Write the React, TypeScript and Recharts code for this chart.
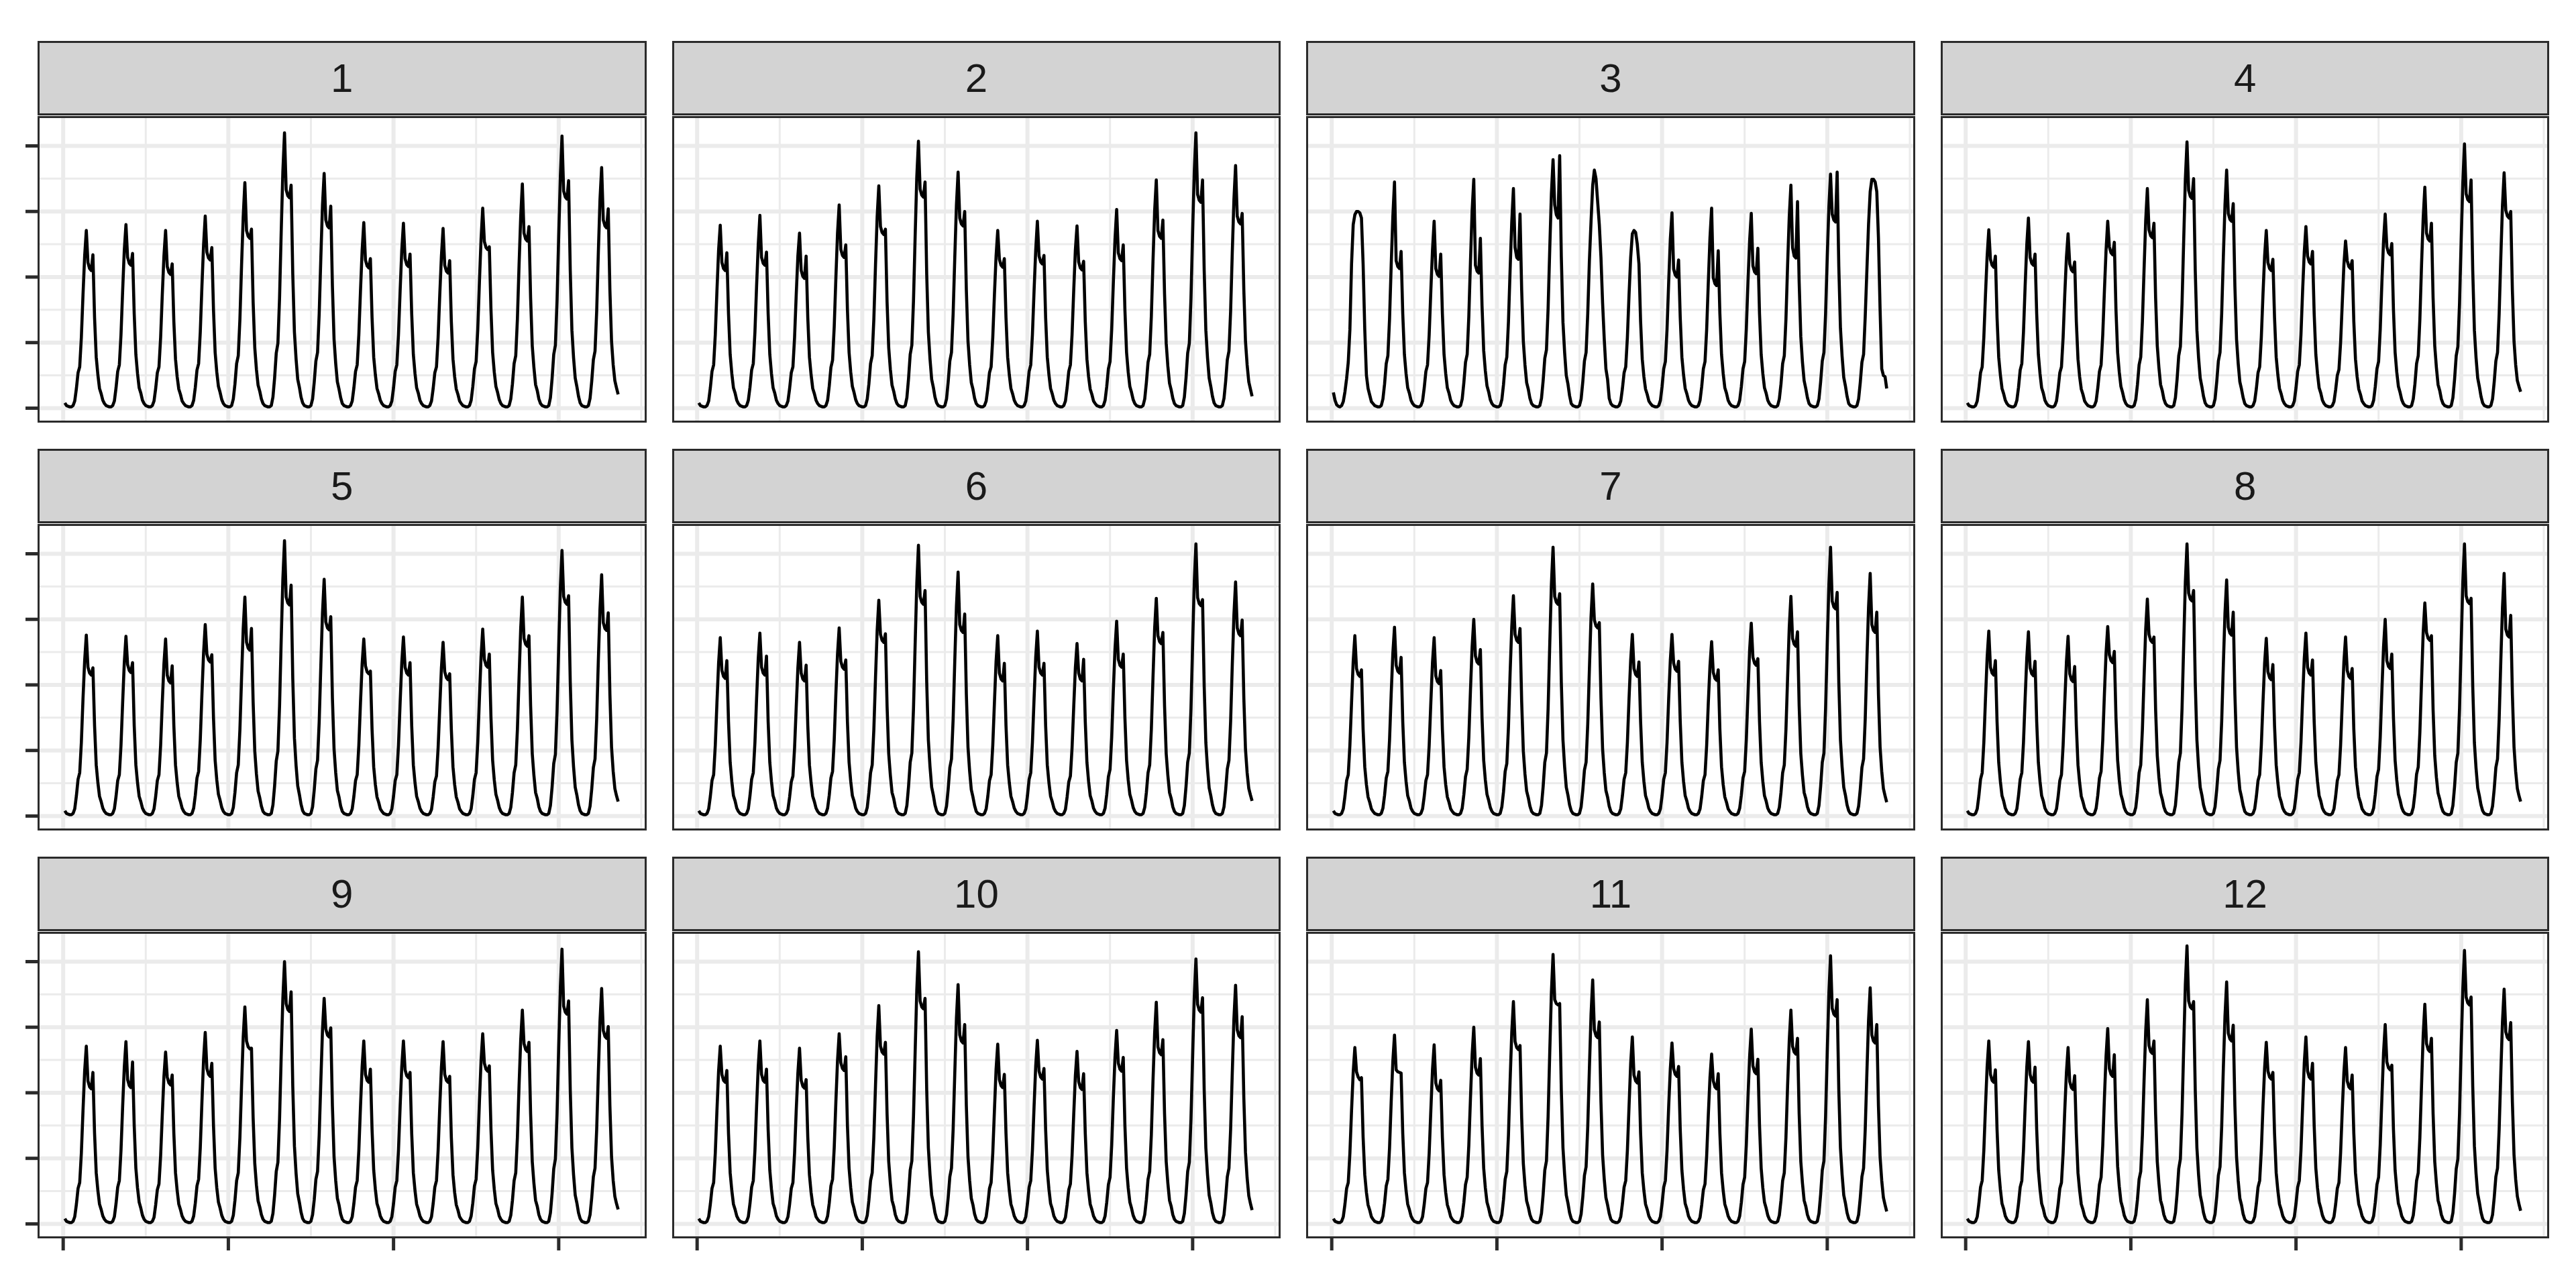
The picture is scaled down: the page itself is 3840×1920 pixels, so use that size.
import React from 'react';
import { LineChart, Line, XAxis, YAxis, CartesianGrid } from 'recharts';

// Facet labels
const panelLabels = ['1', '2', '3', '4', '5', '6', '7', '8', '9', '10', '11', '12'];

// Axis ticks (labels are blank in the reference)
const xTicks = [0, 100, 200, 300];
const xMinor = [50, 150, 250, 350];
const yTicks = [0, 1, 2, 3, 4];
const yMinor = [0.5, 1.5, 2.5, 3.5];

// Hourly values, one row of 24 per day, 14 days per panel
const p1 = [
  [.08,.04,.03,.02,.02,.04,.11,.30,.54,.63,1.08,1.73,2.32,2.71,2.22,2.13,2.10,2.34,1.38,.78,.51,.30,.22,.12],
  [.07,.04,.03,.02,.02,.04,.11,.31,.56,.66,1.12,1.79,2.41,2.80,2.30,2.21,2.18,2.36,1.44,.82,.53,.31,.23,.12],
  [.07,.04,.03,.02,.02,.04,.11,.30,.54,.63,1.08,1.73,2.32,2.71,2.16,2.07,2.04,2.20,1.32,.75,.48,.29,.21,.11],
  [.07,.04,.03,.02,.02,.04,.12,.32,.58,.68,1.16,1.86,2.49,2.93,2.38,2.29,2.26,2.45,1.50,.85,.55,.33,.24,.13],
  [.07,.04,.03,.02,.02,.04,.14,.37,.68,.80,1.36,2.18,2.92,3.44,2.71,2.62,2.59,2.73,1.62,.92,.59,.35,.26,.14],
  [.07,.04,.03,.02,.02,.04,.17,.46,.84,.99,1.68,2.69,3.61,4.20,3.33,3.24,3.21,3.40,2.04,1.16,.75,.44,.32,.17],
  [.08,.04,.03,.02,.02,.04,.14,.40,.72,.85,1.44,2.30,3.10,3.58,2.87,2.78,2.75,3.08,1.86,1.05,.68,.40,.29,.16],
  [.07,.04,.03,.02,.02,.04,.11,.31,.56,.66,1.12,1.79,2.41,2.83,2.26,2.17,2.14,2.28,1.38,.78,.51,.30,.22,.12],
  [.07,.04,.03,.02,.02,.04,.11,.31,.56,.66,1.12,1.79,2.41,2.82,2.28,2.19,2.16,2.35,1.44,.82,.53,.31,.23,.12],
  [.07,.04,.03,.02,.02,.04,.11,.30,.54,.63,1.08,1.73,2.32,2.74,2.18,2.09,2.06,2.25,1.32,.75,.48,.29,.21,.11],
  [.07,.04,.03,.02,.02,.04,.12,.33,.60,.71,1.20,1.92,2.58,3.05,2.54,2.45,2.42,2.46,1.50,.85,.55,.33,.24,.13],
  [.07,.04,.03,.02,.02,.04,.14,.37,.68,.80,1.36,2.18,2.92,3.42,2.67,2.58,2.55,2.77,1.68,.95,.62,.36,.27,.14],
  [.07,.04,.03,.02,.02,.04,.16,.45,.82,.96,1.64,2.62,3.53,4.15,3.31,3.22,3.19,3.47,2.10,1.19,.77,.46,.33,.18],
  [.08,.04,.03,.02,.02,.04,.15,.41,.74,.87,1.48,2.37,3.18,3.67,2.87,2.78,2.75,3.04,1.80,1.02,.66,.42,.31,.21],
];

const p2 = [
  [.08,.04,.03,.02,.02,.04,.11,.31,.56,.66,1.12,1.79,2.41,2.79,2.22,2.13,2.10,2.37,1.44,.82,.53,.31,.23,.12],
  [.07,.04,.03,.02,.02,.04,.12,.32,.58,.68,1.16,1.86,2.49,2.94,2.30,2.21,2.18,2.38,1.44,.82,.53,.31,.23,.12],
  [.07,.04,.03,.02,.02,.04,.11,.30,.54,.63,1.08,1.73,2.32,2.67,2.10,2.01,1.98,2.32,1.38,.78,.51,.30,.22,.12],
  [.07,.04,.03,.02,.02,.04,.12,.34,.62,.73,1.24,1.98,2.67,3.10,2.42,2.33,2.30,2.49,1.50,.85,.55,.33,.24,.13],
  [.07,.04,.03,.02,.02,.04,.14,.37,.68,.80,1.36,2.18,2.92,3.39,2.77,2.68,2.65,2.73,1.62,.92,.59,.35,.26,.14],
  [.07,.04,.03,.02,.02,.04,.16,.45,.82,.96,1.64,2.62,3.53,4.07,3.34,3.25,3.22,3.45,2.04,1.16,.75,.44,.32,.17],
  [.08,.04,.03,.02,.02,.04,.14,.40,.72,.85,1.44,2.30,3.10,3.60,2.90,2.81,2.78,3.00,1.80,1.02,.66,.39,.29,.15],
  [.07,.04,.03,.02,.02,.04,.11,.30,.54,.63,1.08,1.73,2.32,2.71,2.27,2.18,2.15,2.28,1.38,.78,.51,.30,.22,.12],
  [.07,.04,.03,.02,.02,.04,.11,.31,.56,.66,1.12,1.79,2.41,2.85,2.32,2.23,2.20,2.33,1.38,.78,.51,.30,.22,.12],
  [.07,.04,.03,.02,.02,.04,.11,.31,.56,.66,1.12,1.79,2.41,2.78,2.23,2.14,2.11,2.24,1.32,.75,.48,.29,.21,.11],
  [.07,.04,.03,.02,.02,.04,.12,.33,.60,.71,1.20,1.92,2.58,3.03,2.37,2.28,2.25,2.49,1.50,.85,.55,.33,.24,.13],
  [.07,.04,.03,.02,.02,.04,.14,.39,.70,.82,1.40,2.24,3.01,3.48,2.71,2.62,2.59,2.87,1.74,.99,.64,.38,.28,.15],
  [.07,.04,.03,.02,.02,.04,.17,.46,.84,.99,1.68,2.69,3.61,4.20,3.26,3.17,3.14,3.48,2.10,1.19,.77,.46,.33,.18],
  [.08,.04,.03,.02,.02,.04,.15,.41,.74,.87,1.48,2.37,3.18,3.70,2.93,2.84,2.81,2.97,1.80,1.02,.66,.40,.29,.18],
];

const p3 = [
  [.24,.12,.05,.03,.02,.04,.10,.25,.45,.70,1.20,2.20,2.80,2.95,3.00,3.00,2.98,2.90,2.20,1.20,.50,.30,.20,.10],
  [.07,.04,.03,.02,.02,.04,.14,.37,.68,.80,1.36,2.18,2.92,3.45,2.25,2.16,2.13,2.39,1.44,.82,.53,.31,.23,.12],
  [.07,.04,.03,.02,.02,.04,.11,.31,.56,.66,1.12,1.79,2.41,2.85,2.13,2.04,2.01,2.35,1.44,.82,.53,.31,.23,.12],
  [.07,.04,.03,.02,.02,.04,.14,.39,.70,.82,1.40,2.24,3.01,3.49,2.18,2.09,2.06,2.59,1.56,.88,.57,.34,.25,.13],
  [.07,.04,.03,.02,.02,.04,.13,.36,.66,.78,1.32,2.11,2.84,3.35,2.45,2.30,2.27,2.96,1.80,1.02,.66,.39,.29,.15],
  [.07,.04,.03,.02,.02,.04,.15,.42,.76,.89,1.52,2.43,3.27,3.79,3.10,2.95,2.90,3.85,2.31,1.31,.85,.50,.37,.19],
  [.07,.04,.03,.02,.02,.04,.14,.40,.72,.85,1.44,2.25,2.85,3.40,3.63,3.50,3.15,2.80,2.30,1.60,1.05,.60,.44,.15],
  [.07,.04,.03,.02,.02,.04,.11,.30,.54,.63,1.08,1.73,2.30,2.66,2.71,2.68,2.50,2.20,1.32,.75,.48,.29,.21,.11],
  [.07,.04,.03,.02,.02,.04,.12,.33,.60,.71,1.20,1.92,2.58,2.98,2.12,2.03,2.00,2.26,1.38,.78,.51,.30,.22,.12],
  [.07,.04,.03,.02,.02,.04,.12,.33,.60,.71,1.20,1.92,2.60,3.05,1.99,1.90,1.87,2.40,1.44,.82,.53,.31,.23,.12],
  [.07,.04,.03,.02,.02,.04,.12,.33,.60,.71,1.20,1.92,2.55,2.97,2.17,2.08,2.05,2.44,1.44,.82,.53,.31,.23,.12],
  [.07,.04,.03,.02,.02,.04,.14,.37,.68,.80,1.36,2.18,2.92,3.40,2.45,2.32,2.29,3.15,1.92,1.09,.70,.42,.30,.16],
  [.07,.04,.03,.02,.02,.04,.14,.40,.72,.85,1.44,2.30,3.07,3.57,2.96,2.87,2.84,3.60,2.16,1.22,.79,.47,.34,.18],
  [.07,.04,.03,.02,.02,.04,.14,.39,.70,.82,1.40,2.10,2.80,3.30,3.49,3.49,3.45,3.30,2.60,1.50,.60,.50,.48,.30],
];

const p4 = [
  [.08,.04,.03,.02,.02,.04,.11,.30,.54,.63,1.08,1.73,2.32,2.72,2.27,2.18,2.15,2.32,1.38,.78,.51,.30,.22,.12],
  [.07,.04,.03,.02,.02,.04,.12,.32,.58,.68,1.16,1.86,2.49,2.90,2.30,2.21,2.18,2.35,1.44,.82,.53,.31,.23,.12],
  [.07,.04,.03,.02,.02,.04,.11,.30,.54,.63,1.08,1.73,2.30,2.66,2.20,2.11,2.08,2.23,1.32,.75,.48,.29,.21,.11],
  [.07,.04,.03,.02,.02,.04,.11,.31,.56,.66,1.12,1.79,2.41,2.85,2.46,2.37,2.34,2.53,1.50,.85,.55,.33,.24,.13],
  [.07,.04,.03,.02,.02,.04,.13,.36,.66,.78,1.32,2.11,2.86,3.35,2.72,2.63,2.60,2.82,1.68,.95,.62,.36,.27,.14],
  [.07,.04,.03,.02,.02,.04,.16,.44,.80,.94,1.60,2.56,3.49,4.06,3.32,3.23,3.20,3.50,2.10,1.19,.77,.46,.33,.18],
  [.08,.04,.03,.02,.02,.04,.14,.40,.72,.85,1.44,2.30,3.10,3.63,2.97,2.88,2.85,3.12,1.86,1.05,.68,.40,.29,.16],
  [.07,.04,.03,.02,.02,.04,.11,.30,.54,.63,1.08,1.73,2.32,2.71,2.22,2.13,2.10,2.27,1.38,.78,.51,.30,.22,.12],
  [.07,.04,.03,.02,.02,.04,.11,.31,.56,.66,1.12,1.79,2.38,2.77,2.32,2.23,2.20,2.39,1.44,.82,.53,.31,.23,.12],
  [.07,.04,.03,.02,.02,.04,.10,.28,.50,.59,1.00,1.60,2.19,2.55,2.25,2.16,2.13,2.25,1.32,.75,.48,.29,.21,.11],
  [.07,.04,.03,.02,.02,.04,.12,.33,.60,.71,1.20,1.92,2.55,2.96,2.46,2.37,2.34,2.51,1.50,.85,.55,.33,.24,.13],
  [.07,.04,.03,.02,.02,.04,.14,.37,.68,.80,1.36,2.18,2.90,3.37,2.67,2.58,2.55,2.82,1.68,.95,.62,.36,.27,.14],
  [.07,.04,.03,.02,.02,.04,.16,.44,.80,.94,1.60,2.56,3.44,4.03,3.27,3.18,3.15,3.48,2.10,1.19,.77,.46,.33,.18],
  [.08,.04,.03,.02,.02,.04,.14,.40,.72,.85,1.44,2.30,3.09,3.59,3.02,2.93,2.90,3.00,1.80,1.02,.66,.42,.33,.25],
];

const p5 = [
  [.08,.04,.03,.02,.02,.04,.11,.31,.56,.66,1.12,1.79,2.37,2.76,2.27,2.18,2.15,2.26,1.38,.78,.51,.30,.22,.12],
  [.07,.04,.03,.02,.02,.04,.11,.30,.54,.63,1.08,1.73,2.34,2.74,2.31,2.22,2.19,2.34,1.38,.78,.51,.30,.22,.12],
  [.07,.04,.03,.02,.02,.04,.11,.30,.54,.63,1.08,1.73,2.32,2.70,2.15,2.06,2.03,2.29,1.38,.78,.51,.30,.22,.12],
  [.07,.04,.03,.02,.02,.04,.12,.32,.58,.68,1.16,1.86,2.49,2.92,2.47,2.38,2.35,2.46,1.50,.85,.55,.33,.24,.13],
  [.07,.04,.03,.02,.02,.04,.13,.36,.66,.78,1.32,2.11,2.86,3.34,2.65,2.56,2.53,2.86,1.74,.99,.64,.38,.28,.15],
  [.07,.04,.03,.02,.02,.04,.17,.46,.84,.99,1.68,2.69,3.61,4.20,3.34,3.25,3.22,3.52,2.10,1.19,.77,.46,.33,.18],
  [.08,.04,.03,.02,.02,.04,.14,.40,.72,.85,1.44,2.30,3.10,3.61,2.96,2.87,2.84,3.04,1.80,1.02,.66,.39,.29,.15],
  [.07,.04,.03,.02,.02,.04,.11,.30,.54,.63,1.08,1.73,2.32,2.70,2.29,2.20,2.17,2.21,1.32,.75,.48,.29,.21,.11],
  [.07,.04,.03,.02,.02,.04,.11,.30,.54,.63,1.08,1.73,2.34,2.73,2.27,2.18,2.15,2.34,1.38,.78,.51,.30,.22,.12],
  [.07,.04,.03,.02,.02,.04,.10,.29,.52,.61,1.04,1.66,2.26,2.65,2.20,2.11,2.08,2.17,1.32,.75,.48,.29,.21,.11],
  [.07,.04,.03,.02,.02,.04,.11,.31,.56,.66,1.12,1.79,2.43,2.85,2.39,2.30,2.27,2.47,1.50,.85,.55,.33,.24,.13],
  [.07,.04,.03,.02,.02,.04,.13,.36,.66,.78,1.32,2.11,2.86,3.34,2.71,2.62,2.59,2.75,1.68,.95,.62,.36,.27,.14],
  [.07,.04,.03,.02,.02,.04,.16,.44,.80,.94,1.60,2.56,3.48,4.05,3.35,3.26,3.23,3.36,2.04,1.16,.75,.44,.32,.17],
  [.08,.04,.03,.02,.02,.04,.15,.41,.74,.87,1.48,2.37,3.16,3.68,2.95,2.86,2.83,3.10,1.86,1.05,.68,.42,.31,.22],
];

const p6 = [
  [.08,.04,.03,.02,.02,.04,.11,.30,.54,.63,1.08,1.73,2.33,2.72,2.22,2.13,2.10,2.37,1.44,.82,.53,.31,.23,.12],
  [.07,.04,.03,.02,.02,.04,.11,.31,.56,.66,1.12,1.79,2.40,2.79,2.27,2.18,2.15,2.44,1.44,.82,.53,.31,.23,.12],
  [.07,.04,.03,.02,.02,.04,.10,.29,.52,.61,1.04,1.66,2.26,2.65,2.18,2.09,2.06,2.30,1.38,.78,.51,.30,.22,.12],
  [.07,.04,.03,.02,.02,.04,.12,.32,.58,.68,1.16,1.86,2.47,2.87,2.36,2.27,2.24,2.38,1.44,.82,.53,.31,.23,.12],
  [.07,.04,.03,.02,.02,.04,.13,.36,.66,.78,1.32,2.11,2.83,3.29,2.77,2.68,2.65,2.78,1.68,.95,.62,.36,.27,.14],
  [.07,.04,.03,.02,.02,.04,.16,.45,.82,.96,1.64,2.62,3.55,4.13,3.35,3.26,3.23,3.44,2.04,1.16,.75,.44,.32,.17],
  [.08,.04,.03,.02,.02,.04,.15,.41,.74,.87,1.48,2.37,3.20,3.72,2.92,2.83,2.80,3.08,1.86,1.05,.68,.40,.29,.16],
  [.07,.04,.03,.02,.02,.04,.11,.30,.54,.63,1.08,1.73,2.36,2.75,2.18,2.09,2.06,2.33,1.38,.78,.51,.30,.22,.12],
  [.07,.04,.03,.02,.02,.04,.11,.31,.56,.66,1.12,1.79,2.42,2.82,2.27,2.18,2.15,2.33,1.38,.78,.51,.30,.22,.12],
  [.07,.04,.03,.02,.02,.04,.10,.29,.52,.61,1.04,1.66,2.26,2.63,2.18,2.09,2.06,2.39,1.44,.82,.53,.31,.23,.12],
  [.07,.04,.03,.02,.02,.04,.12,.33,.60,.71,1.20,1.92,2.55,2.97,2.39,2.30,2.27,2.47,1.50,.85,.55,.33,.24,.13],
  [.07,.04,.03,.02,.02,.04,.13,.36,.66,.78,1.32,2.11,2.86,3.32,2.75,2.66,2.63,2.80,1.68,.95,.62,.36,.27,.14],
  [.07,.04,.03,.02,.02,.04,.16,.45,.82,.96,1.64,2.62,3.57,4.15,3.33,3.24,3.21,3.30,1.98,1.12,.73,.43,.31,.17],
  [.08,.04,.03,.02,.02,.04,.14,.40,.72,.85,1.44,2.30,3.07,3.57,2.87,2.78,2.75,2.99,1.80,1.02,.66,.42,.32,.23],
];

const p7 = [
  [.08,.04,.03,.02,.02,.04,.11,.30,.54,.63,1.08,1.73,2.36,2.75,2.25,2.16,2.13,2.23,1.32,.75,.48,.29,.21,.11],
  [.07,.04,.03,.02,.02,.04,.12,.32,.58,.68,1.16,1.86,2.48,2.88,2.30,2.21,2.18,2.42,1.44,.82,.53,.31,.23,.12],
  [.07,.04,.03,.02,.02,.04,.11,.30,.54,.63,1.08,1.73,2.34,2.72,2.14,2.05,2.02,2.22,1.32,.75,.48,.29,.21,.11],
  [.07,.04,.03,.02,.02,.04,.12,.33,.60,.71,1.20,1.92,2.58,3.00,2.44,2.35,2.32,2.54,1.50,.85,.55,.33,.24,.13],
  [.07,.04,.03,.02,.02,.04,.14,.37,.68,.80,1.36,2.18,2.89,3.36,2.77,2.68,2.65,2.86,1.74,.99,.64,.38,.28,.15],
  [.07,.04,.03,.02,.02,.04,.16,.45,.82,.96,1.64,2.62,3.53,4.10,3.35,3.26,3.23,3.39,2.04,1.16,.75,.44,.32,.17],
  [.08,.04,.03,.02,.02,.04,.14,.39,.70,.82,1.40,2.24,3.04,3.54,2.99,2.90,2.87,2.95,1.80,1.02,.66,.39,.29,.15],
  [.07,.04,.03,.02,.02,.04,.11,.31,.56,.66,1.12,1.79,2.38,2.77,2.25,2.16,2.13,2.35,1.44,.82,.53,.31,.23,.12],
  [.07,.04,.03,.02,.02,.04,.11,.31,.56,.66,1.12,1.79,2.38,2.77,2.33,2.24,2.21,2.36,1.44,.82,.53,.31,.23,.12],
  [.07,.04,.03,.02,.02,.04,.11,.30,.54,.63,1.08,1.73,2.29,2.66,2.19,2.10,2.07,2.23,1.32,.75,.48,.29,.21,.11],
  [.07,.04,.03,.02,.02,.04,.12,.32,.58,.68,1.16,1.86,2.53,2.94,2.42,2.33,2.30,2.40,1.44,.82,.53,.31,.23,.12],
  [.07,.04,.03,.02,.02,.04,.13,.36,.66,.78,1.32,2.11,2.88,3.35,2.71,2.62,2.59,2.81,1.68,.95,.62,.36,.27,.14],
  [.07,.04,.03,.02,.02,.04,.16,.45,.82,.96,1.64,2.62,3.53,4.10,3.28,3.19,3.16,3.41,2.04,1.16,.75,.44,.32,.17],
  [.08,.04,.03,.02,.02,.04,.15,.41,.74,.87,1.48,2.37,3.18,3.70,2.92,2.83,2.80,3.11,1.86,1.05,.68,.42,.31,.21],
];

const p8 = [
  [.08,.04,.03,.02,.02,.04,.11,.31,.56,.66,1.12,1.79,2.42,2.82,2.27,2.18,2.15,2.37,1.44,.82,.53,.31,.23,.12],
  [.07,.04,.03,.02,.02,.04,.11,.31,.56,.66,1.12,1.79,2.41,2.81,2.26,2.17,2.14,2.36,1.44,.82,.53,.31,.23,.12],
  [.07,.04,.03,.02,.02,.04,.11,.30,.54,.63,1.08,1.73,2.35,2.74,2.17,2.08,2.05,2.28,1.38,.78,.51,.30,.22,.12],
  [.07,.04,.03,.02,.02,.04,.12,.32,.58,.68,1.16,1.86,2.49,2.89,2.46,2.37,2.34,2.51,1.50,.85,.55,.33,.24,.13],
  [.07,.04,.03,.02,.02,.04,.13,.36,.66,.78,1.32,2.11,2.85,3.31,2.77,2.68,2.65,2.73,1.62,.92,.59,.35,.26,.14],
  [.07,.04,.03,.02,.02,.04,.16,.45,.82,.96,1.64,2.62,3.57,4.15,3.40,3.31,3.28,3.44,2.04,1.16,.75,.44,.32,.17],
  [.08,.04,.03,.02,.02,.04,.14,.40,.72,.85,1.44,2.30,3.10,3.60,2.88,2.79,2.76,3.11,1.86,1.05,.68,.40,.29,.16],
  [.07,.04,.03,.02,.02,.04,.11,.30,.54,.63,1.08,1.73,2.33,2.71,2.20,2.11,2.08,2.31,1.38,.78,.51,.30,.22,.12],
  [.07,.04,.03,.02,.02,.04,.11,.31,.56,.66,1.12,1.79,2.40,2.79,2.27,2.18,2.15,2.38,1.44,.82,.53,.31,.23,.12],
  [.07,.04,.03,.02,.02,.04,.11,.30,.54,.63,1.08,1.73,2.35,2.73,2.22,2.13,2.10,2.25,1.32,.75,.48,.29,.21,.11],
  [.07,.04,.03,.02,.02,.04,.12,.33,.60,.71,1.20,1.92,2.58,3.00,2.37,2.28,2.25,2.47,1.50,.85,.55,.33,.24,.13],
  [.07,.04,.03,.02,.02,.04,.13,.35,.64,.75,1.28,2.05,2.80,3.25,2.80,2.71,2.68,2.75,1.62,.92,.59,.35,.26,.14],
  [.07,.04,.03,.02,.02,.04,.16,.45,.82,.96,1.64,2.62,3.57,4.15,3.36,3.27,3.24,3.32,1.98,1.12,.73,.43,.31,.17],
  [.08,.04,.03,.02,.02,.04,.15,.41,.74,.87,1.48,2.37,3.18,3.70,2.85,2.76,2.73,3.06,1.86,1.05,.68,.42,.31,.22],
];

const p9 = [
  [.08,.04,.03,.02,.02,.04,.11,.30,.54,.63,1.08,1.73,2.33,2.71,2.18,2.09,2.06,2.31,1.38,.78,.51,.30,.22,.12],
  [.07,.04,.03,.02,.02,.04,.11,.31,.56,.66,1.12,1.79,2.39,2.78,2.20,2.11,2.08,2.47,1.50,.85,.55,.33,.24,.13],
  [.07,.04,.03,.02,.02,.04,.10,.29,.52,.61,1.04,1.66,2.25,2.62,2.24,2.15,2.12,2.27,1.38,.78,.51,.30,.22,.12],
  [.07,.04,.03,.02,.02,.04,.12,.32,.58,.68,1.16,1.86,2.51,2.92,2.37,2.28,2.25,2.45,1.50,.85,.55,.33,.24,.13],
  [.07,.04,.03,.02,.02,.04,.13,.36,.66,.78,1.32,2.11,2.85,3.31,2.79,2.70,2.67,2.68,1.62,.92,.59,.35,.26,.14],
  [.07,.04,.03,.02,.02,.04,.16,.44,.80,.94,1.60,2.56,3.44,4.00,3.36,3.27,3.24,3.54,2.10,1.19,.77,.46,.33,.18],
  [.08,.04,.03,.02,.02,.04,.14,.37,.68,.80,1.36,2.18,2.96,3.44,2.97,2.88,2.85,2.99,1.80,1.02,.66,.39,.29,.15],
  [.07,.04,.03,.02,.02,.04,.11,.31,.56,.66,1.12,1.79,2.40,2.79,2.28,2.19,2.16,2.36,1.44,.82,.53,.31,.23,.12],
  [.07,.04,.03,.02,.02,.04,.11,.31,.56,.66,1.12,1.79,2.40,2.79,2.35,2.26,2.23,2.31,1.38,.78,.51,.30,.22,.12],
  [.07,.04,.03,.02,.02,.04,.11,.31,.56,.66,1.12,1.79,2.39,2.78,2.28,2.19,2.16,2.25,1.32,.75,.48,.29,.21,.11],
  [.07,.04,.03,.02,.02,.04,.12,.32,.58,.68,1.16,1.86,2.49,2.90,2.45,2.36,2.33,2.41,1.44,.82,.53,.31,.23,.12],
  [.07,.04,.03,.02,.02,.04,.13,.36,.66,.78,1.32,2.11,2.80,3.26,2.75,2.66,2.63,2.77,1.68,.95,.62,.36,.27,.14],
  [.07,.04,.03,.02,.02,.04,.17,.46,.84,.99,1.68,2.69,3.60,4.19,3.32,3.23,3.20,3.40,2.04,1.16,.75,.44,.32,.17],
  [.08,.04,.03,.02,.02,.04,.14,.40,.72,.85,1.44,2.30,3.09,3.59,2.95,2.86,2.83,3.01,1.80,1.02,.66,.42,.31,.22],
];

const p10 = [
  [.08,.04,.03,.02,.02,.04,.11,.30,.54,.63,1.08,1.73,2.33,2.71,2.28,2.19,2.16,2.34,1.38,.78,.51,.30,.22,.12],
  [.07,.04,.03,.02,.02,.04,.11,.31,.56,.66,1.12,1.79,2.40,2.79,2.28,2.19,2.16,2.36,1.44,.82,.53,.31,.23,.12],
  [.07,.04,.03,.02,.02,.04,.11,.30,.54,.63,1.08,1.73,2.30,2.68,2.19,2.10,2.07,2.20,1.32,.75,.48,.29,.21,.11],
  [.07,.04,.03,.02,.02,.04,.12,.32,.58,.68,1.16,1.86,2.49,2.90,2.46,2.37,2.34,2.55,1.50,.85,.55,.33,.24,.13],
  [.07,.04,.03,.02,.02,.04,.13,.36,.66,.78,1.32,2.11,2.86,3.33,2.71,2.62,2.59,2.77,1.68,.95,.62,.36,.27,.14],
  [.07,.04,.03,.02,.02,.04,.16,.45,.82,.96,1.64,2.62,3.57,4.15,3.40,3.31,3.28,3.44,2.04,1.16,.75,.44,.32,.17],
  [.08,.04,.03,.02,.02,.04,.14,.40,.72,.85,1.44,2.30,3.14,3.65,2.88,2.79,2.76,3.04,1.80,1.02,.66,.39,.29,.15],
  [.07,.04,.03,.02,.02,.04,.11,.30,.54,.63,1.08,1.73,2.36,2.74,2.20,2.11,2.08,2.28,1.38,.78,.51,.30,.22,.12],
  [.07,.04,.03,.02,.02,.04,.11,.31,.56,.66,1.12,1.79,2.41,2.80,2.33,2.24,2.21,2.37,1.44,.82,.53,.31,.23,.12],
  [.07,.04,.03,.02,.02,.04,.10,.29,.52,.61,1.04,1.66,2.26,2.63,2.17,2.08,2.05,2.29,1.38,.78,.51,.30,.22,.12],
  [.07,.04,.03,.02,.02,.04,.12,.33,.60,.71,1.20,1.92,2.54,2.95,2.45,2.36,2.33,2.54,1.50,.85,.55,.33,.24,.13],
  [.07,.04,.03,.02,.02,.04,.14,.37,.68,.80,1.36,2.18,2.91,3.38,2.70,2.61,2.58,2.81,1.68,.95,.62,.36,.27,.14],
  [.07,.04,.03,.02,.02,.04,.16,.44,.80,.94,1.60,2.56,3.47,4.04,3.35,3.26,3.23,3.45,2.04,1.16,.75,.44,.32,.17],
  [.08,.04,.03,.02,.02,.04,.14,.40,.72,.85,1.44,2.30,3.13,3.64,2.96,2.87,2.84,3.16,1.92,1.09,.70,.43,.31,.21],
];

const p11 = [
  [.08,.04,.03,.02,.02,.04,.11,.30,.54,.63,1.08,1.73,2.31,2.69,2.32,2.24,2.20,2.23,1.32,.75,.48,.29,.21,.11],
  [.07,.04,.03,.02,.02,.04,.12,.32,.58,.68,1.16,1.86,2.48,2.88,2.35,2.32,2.31,2.30,1.38,.78,.51,.30,.22,.12],
  [.07,.04,.03,.02,.02,.04,.11,.30,.54,.63,1.08,1.73,2.35,2.73,2.15,2.06,2.03,2.19,1.32,.75,.48,.29,.21,.11],
  [.07,.04,.03,.02,.02,.04,.12,.33,.60,.71,1.20,1.92,2.58,3.00,2.39,2.30,2.27,2.52,1.50,.85,.55,.33,.24,.13],
  [.07,.04,.03,.02,.02,.04,.14,.37,.68,.80,1.36,2.18,2.92,3.39,2.78,2.69,2.66,2.72,1.62,.92,.59,.35,.26,.14],
  [.07,.04,.03,.02,.02,.04,.16,.45,.82,.96,1.64,2.62,3.53,4.11,3.42,3.36,3.34,3.36,2.04,1.16,.75,.44,.32,.17],
  [.08,.04,.03,.02,.02,.04,.15,.41,.74,.87,1.48,2.37,3.20,3.72,2.96,2.87,2.84,3.08,1.86,1.05,.68,.40,.29,.16],
  [.07,.04,.03,.02,.02,.04,.11,.31,.56,.66,1.12,1.79,2.45,2.85,2.27,2.18,2.15,2.32,1.38,.78,.51,.30,.22,.12],
  [.07,.04,.03,.02,.02,.04,.11,.31,.56,.66,1.12,1.79,2.37,2.76,2.37,2.28,2.25,2.40,1.44,.82,.53,.31,.23,.12],
  [.07,.04,.03,.02,.02,.04,.10,.29,.52,.61,1.04,1.66,2.23,2.59,2.18,2.09,2.06,2.29,1.38,.78,.51,.30,.22,.12],
  [.07,.04,.03,.02,.02,.04,.12,.33,.60,.71,1.20,1.92,2.55,2.97,2.41,2.32,2.29,2.51,1.50,.85,.55,.33,.24,.13],
  [.07,.04,.03,.02,.02,.04,.13,.36,.66,.78,1.32,2.11,2.80,3.26,2.71,2.62,2.59,2.83,1.68,.95,.62,.36,.27,.14],
  [.07,.04,.03,.02,.02,.04,.16,.45,.82,.96,1.64,2.62,3.52,4.09,3.29,3.20,3.17,3.42,2.04,1.16,.75,.44,.32,.17],
  [.08,.04,.03,.02,.02,.04,.14,.40,.72,.85,1.44,2.30,3.10,3.60,2.88,2.79,2.76,3.04,1.80,1.02,.66,.40,.29,.19],
];

const p12 = [
  [.08,.04,.03,.02,.02,.04,.11,.31,.56,.66,1.12,1.79,2.40,2.79,2.28,2.19,2.16,2.35,1.44,.82,.53,.31,.23,.12],
  [.07,.04,.03,.02,.02,.04,.11,.31,.56,.66,1.12,1.79,2.39,2.78,2.28,2.19,2.16,2.39,1.44,.82,.53,.31,.23,.12],
  [.07,.04,.03,.02,.02,.04,.11,.30,.54,.63,1.08,1.73,2.31,2.69,2.17,2.08,2.05,2.26,1.38,.78,.51,.30,.22,.12],
  [.07,.04,.03,.02,.02,.04,.12,.33,.60,.71,1.20,1.92,2.56,2.98,2.37,2.28,2.25,2.58,1.56,.88,.57,.34,.25,.13],
  [.07,.04,.03,.02,.02,.04,.14,.37,.68,.80,1.36,2.18,2.94,3.42,2.72,2.63,2.60,2.79,1.68,.95,.62,.36,.27,.14],
  [.07,.04,.03,.02,.02,.04,.17,.46,.84,.99,1.68,2.69,3.65,4.24,3.40,3.31,3.28,3.39,2.04,1.16,.75,.44,.32,.17],
  [.08,.04,.03,.02,.02,.04,.15,.41,.74,.87,1.48,2.37,3.17,3.69,2.91,2.82,2.79,3.03,1.80,1.02,.66,.39,.29,.15],
  [.07,.04,.03,.02,.02,.04,.11,.31,.56,.66,1.12,1.79,2.38,2.77,2.33,2.24,2.21,2.31,1.38,.78,.51,.30,.22,.12],
  [.07,.04,.03,.02,.02,.04,.11,.31,.56,.66,1.12,1.79,2.45,2.85,2.33,2.24,2.21,2.45,1.50,.85,.55,.33,.24,.13],
  [.07,.04,.03,.02,.02,.04,.11,.30,.54,.63,1.08,1.73,2.31,2.69,2.18,2.09,2.06,2.27,1.38,.78,.51,.30,.22,.12],
  [.07,.04,.03,.02,.02,.04,.12,.33,.60,.71,1.20,1.92,2.61,3.04,2.47,2.38,2.35,2.42,1.44,.82,.53,.31,.23,.12],
  [.07,.04,.03,.02,.02,.04,.13,.36,.66,.78,1.32,2.11,2.88,3.35,2.75,2.66,2.63,2.83,1.68,.95,.62,.36,.27,.14],
  [.07,.04,.03,.02,.02,.04,.17,.46,.84,.99,1.68,2.69,3.59,4.17,3.46,3.37,3.34,3.46,2.10,1.19,.77,.46,.33,.18],
  [.08,.04,.03,.02,.02,.04,.14,.40,.72,.85,1.44,2.30,3.08,3.58,2.93,2.84,2.81,3.07,1.86,1.05,.68,.42,.30,.20],
];

const panels = [p1, p2, p3, p4, p5, p6, p7, p8, p9, p10, p11, p12];

// Layout (px)
const COL_X = [57.5, 1003.1, 1948.7, 2894.3];
const ROW_Y = [61, 669, 1277];
const PANEL_W = 904.6;
const STRIP_H = 111;
const PANEL_OFF = 113;
const PANEL_H = 454;
const TICK = 20;
const X_DOMAIN: [number, number] = [-14.7, 352.7];
const Y_DOMAIN: [number, number] = [-0.2, 4.445];

function toRows(days: number[][]) {
  const rows: { h: number; v: number }[] = [];
  days.forEach((day, d) => day.forEach((v, i) => rows.push({ h: d * 24 + i + 1, v })));
  return rows;
}

const blank = () => '';

function Panel({ idx }: { idx: number }) {
  const row = Math.floor(idx / 4);
  const col = idx % 4;
  const left = col === 0;
  const bottom = row === 2;
  const x0 = COL_X[col];
  const yStrip = ROW_Y[row];
  const yPanel = yStrip + PANEL_OFF;
  const chartW = PANEL_W + (left ? TICK : 0);
  const chartH = PANEL_H + (bottom ? TICK : 0);
  const data = toRows(panels[idx]);
  return (
    <>
      <div
        style={{
          position: 'absolute',
          left: x0 - 1.5,
          top: yStrip,
          width: PANEL_W + 3,
          height: STRIP_H,
          background: '#D3D3D3',
          border: '3px solid #2B2B2B',
          boxSizing: 'border-box',
          display: 'flex',
          alignItems: 'center',
          justifyContent: 'center',
          fontFamily: '"Liberation Sans", Arial, sans-serif',
          fontSize: 60,
          color: '#1A1A1A',
        }}
      >
        {panelLabels[idx]}
      </div>
      <div style={{ position: 'absolute', left: x0 - (left ? TICK : 0), top: yPanel, width: chartW, height: chartH }}>
        <LineChart width={chartW} height={chartH} data={data} margin={{ top: 0, right: 0, bottom: 0, left: 0 }}>
          <CartesianGrid stroke="#EBEBEB" strokeWidth={3} horizontalValues={yMinor} verticalValues={xMinor} />
          <CartesianGrid stroke="#EBEBEB" strokeWidth={6} horizontalValues={yTicks} verticalValues={xTicks} />
          <XAxis
            dataKey="h"
            type="number"
            domain={X_DOMAIN}
            allowDataOverflow
            ticks={xTicks}
            hide={!bottom}
            height={TICK}
            tickSize={TICK}
            tickLine={{ stroke: '#2B2B2B', strokeWidth: 5 }}
            axisLine={false}
            tickFormatter={blank}
            interval={0}
          />
          <YAxis
            type="number"
            domain={Y_DOMAIN}
            allowDataOverflow
            ticks={yTicks}
            hide={!left}
            width={TICK}
            tickSize={TICK}
            tickLine={{ stroke: '#2B2B2B', strokeWidth: 5 }}
            axisLine={false}
            tickFormatter={blank}
            interval={0}
          />
          <Line
            type="linear"
            dataKey="v"
            stroke="#000000"
            strokeWidth={4.6}
            strokeLinejoin="round"
            dot={false}
            activeDot={false}
            isAnimationActive={false}
          />
        </LineChart>
      </div>
      <div
        style={{
          position: 'absolute',
          left: x0 - 1.5,
          top: yPanel - 1.5,
          width: PANEL_W + 3,
          height: PANEL_H + 3,
          border: '3px solid #2B2B2B',
          boxSizing: 'border-box',
          pointerEvents: 'none',
        }}
      />
    </>
  );
}

export default function App() {
  return (
    <div style={{ position: 'absolute', left: 0, top: 0, width: 3840, height: 1920, background: '#FFFFFF', overflow: 'hidden' }}>
      {panels.map((_, i) => (
        <Panel key={i} idx={i} />
      ))}
    </div>
  );
}
